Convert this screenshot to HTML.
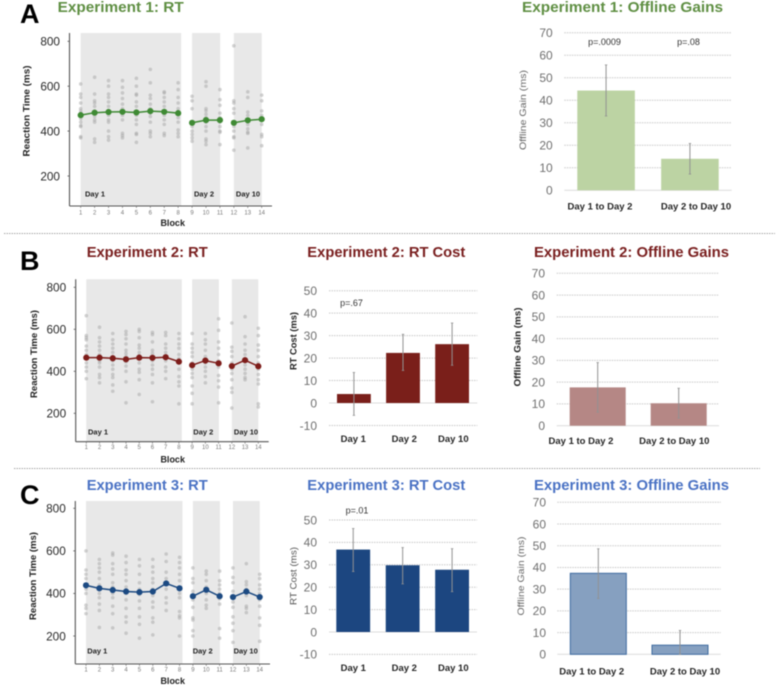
<!DOCTYPE html>
<html lang="en">
<head>
<meta charset="utf-8">
<title>Experiments 1-3: RT, RT cost and offline gains</title>
<style>
  html,body{margin:0;padding:0;background:#fff;width:784px;height:687px;overflow:hidden}
  svg{display:block;filter:blur(0.45px);font-family:"Liberation Sans",sans-serif}
  .ttl{font-size:15px;font-weight:700}
  .ltr{font-size:27px;font-weight:700;fill:#000}
  .ytb{font-size:9px;font-weight:700;fill:#222}
  .blk{font-size:9px;font-weight:700;fill:#222;text-anchor:middle}
  .day{font-size:7.5px;font-weight:700;fill:#222;text-anchor:middle}
  .sep{stroke:#a8a8a8;stroke-width:1;stroke-dasharray:1.5 1}
</style>
</head>
<body>
<svg id="fig" xmlns="http://www.w3.org/2000/svg" width="784" height="687" viewBox="0 0 784 687">
  <rect width="784" height="687" fill="#fff"/>

  <line class="sep" x1="4" y1="233.5" x2="775" y2="233.5"/>
  <line class="sep" x1="14" y1="468.5" x2="760" y2="468.5"/>

  <text class="ltr" x="20" y="23">A</text>
  <text class="ltr" x="20" y="270">B</text>
  <text class="ltr" x="20" y="504">C</text>

  <text class="ttl" fill="#5f8f43" x="57.7" y="12" textLength="126" lengthAdjust="spacingAndGlyphs">Experiment 1: RT</text>
  <text class="ttl" fill="#5f8f43" x="522" y="12" textLength="201" lengthAdjust="spacingAndGlyphs">Experiment 1: Offline Gains</text>
  <text class="ttl" fill="#7a2020" x="86.7" y="257" textLength="121" lengthAdjust="spacingAndGlyphs">Experiment 2: RT</text>
  <text class="ttl" fill="#7a2020" x="307.3" y="257" textLength="158" lengthAdjust="spacingAndGlyphs">Experiment 2: RT Cost</text>
  <text class="ttl" fill="#7a2020" x="534" y="257" textLength="195" lengthAdjust="spacingAndGlyphs">Experiment 2: Offline Gains</text>
  <text class="ttl" fill="#4a72c4" x="86.7" y="490" textLength="121" lengthAdjust="spacingAndGlyphs">Experiment 3: RT</text>
  <text class="ttl" fill="#4a72c4" x="307.3" y="490" textLength="158" lengthAdjust="spacingAndGlyphs">Experiment 3: RT Cost</text>
  <text class="ttl" fill="#4a72c4" x="534" y="490" textLength="195" lengthAdjust="spacingAndGlyphs">Experiment 3: Offline Gains</text>

  <text class="ytb" transform="translate(29.5,111) rotate(-90)" text-anchor="middle" textLength="91" lengthAdjust="spacingAndGlyphs">Reaction Time (ms)</text>
  <text class="ytb" transform="translate(37,354) rotate(-90)" text-anchor="middle" textLength="88" lengthAdjust="spacingAndGlyphs">Reaction Time (ms)</text>
  <text class="ytb" transform="translate(36,576) rotate(-90)" text-anchor="middle" textLength="88" lengthAdjust="spacingAndGlyphs">Reaction Time (ms)</text>

  <text class="blk" x="172.7" y="226">Block</text>
  <text class="blk" x="172.7" y="462.5">Block</text>
  <text class="blk" x="172.7" y="684">Block</text>

  <g id="rt1"></g>
  <g id="rt2"></g>
  <g id="rt3"></g>
  <g id="gain1"></g>
  <g id="cost2"></g>
  <g id="gain2"></g>
  <g id="cost3"></g>
  <g id="gain3"></g>
</svg>

<script>
// ---------- data ----------
const blocks = [1,2,3,4,5,6,7,8,9,10,11,12,13,14];
const rtTicks = [200,400,600,800];
const dayLabels = ['Day 1','Day 2','Day 10'];
const dayBlocks = [[1,8],[9,11],[12,14]];
const costCategories = ['Day 1','Day 2','Day 10'];
const gainCategories = ['Day 1 to Day 2','Day 2 to Day 10'];
const costTicks = [-10,0,10,20,30,40,50];
const gainTicks = [0,10,20,30,40,50,60,70];

const rt1Means = [471,482,485,486,483,489,486,480,437,449,449,437,448,453];
const rt2Means = [465,465,462,457,465,464,467,446,429,451,438,425,453,424];
const rt3Means = [438,424,416,409,406,409,447,424,387,417,387,383,409,383];

const rt1Subjects = [
  [610,565,550,525,500,490,480,470,455,440,425,420,375,370],
  [640,565,535,525,510,490,480,465,450,440,365,350],
  [625,600,565,550,530,510,490,470,450,440,400,375,360],
  [625,595,570,545,520,500,480,470,450,390,380,370],
  [635,600,565,560,530,510,490,470,450,430,390,385,350],
  [675,615,560,545,520,500,480,465,440,400,390,375],
  [575,570,550,530,510,490,470,450,430,390,380],
  [615,585,550,525,500,480,460,440,405,390,375],
  [555,535,500,440,420,400,385,370,355],
  [620,600,500,490,475,460,440,420,400,365,355,340],
  [585,540,515,480,460,440,420,400,395,340],
  [780,535,525,500,480,440,420,400,375,370,315],
  [575,550,485,470,450,430,410,395,390,325],
  [560,535,490,470,450,430,385,375,335]
];
const rt2Subjects = [
  [665,570,560,550,520,500,480,470,440,420,400,365],
  [610,560,540,520,500,480,470,450,440,420,385,370,345],
  [580,550,530,510,490,470,450,430,410,385,370,335,305],
  [590,575,555,530,500,485,470,445,425,400,350,250],
  [600,590,560,525,510,490,475,440,410,395,360,290],
  [585,575,540,500,485,470,450,430,410,385,345,255],
  [585,570,530,510,490,470,450,420,400,365],
  [580,555,530,510,480,460,440,410,375,350,330,245],
  [580,530,510,490,470,440,410,390,370,330,295,245],
  [580,550,530,500,470,440,420,400,375,345],
  [650,595,540,510,480,450,420,380,355,325,250],
  [630,515,495,470,440,410,390,360,320,300,225],
  [660,565,530,500,480,460,430,410,390,370,360],
  [605,570,525,500,470,440,410,385,360,340,245,230]
];
const rt3Subjects = [
  [600,510,490,470,440,420,400,345,330,305],
  [560,540,520,500,470,440,400,380,350,320,240],
  [590,580,540,515,490,450,430,400,380,340,305,238],
  [575,545,510,490,460,430,400,370,330,290,265,213],
  [560,530,490,450,420,395,365,330,290,255,190],
  [560,525,500,470,450,420,390,360,335,285,265,205],
  [585,550,500,470,450,420,380,355,320],
  [570,545,520,490,460,430,400,380,315,295,285,200],
  [520,470,450,410,370,335,285,275,225,200],
  [505,490,460,430,400,370,345,330],
  [505,460,440,420,400,375,350,235,190],
  [520,475,450,410,385,360,335,290,260,225,170],
  [540,455,440,420,390,340,330,310],
  [490,470,440,420,400,370,340,285,250,175]
];

const gain1Values = [44.3,14];
const gain1Upper  = [55.7,20.8];
const gain1Lower  = [33,7.2];
const gain1PValues = ['p=.0009','p=.08'];

const cost2Values = [4,22.3,26.2];
const cost2Upper  = [13.6,30.6,35.6];
const cost2Lower  = [-5.5,14.5,16.8];

const gain2Values = [17.6,10.3];
const gain2Upper  = [29,17.2];
const gain2Lower  = [6.2,3.5];

const cost3Values = [36.8,29.8,27.8];
const cost3Upper  = [46.2,37.7,37.2];
const cost3Lower  = [27,21.5,18];

const gain3Values = [37.3,4.2];
const gain3Upper  = [48.6,11];
const gain3Lower  = [25.7,0];

// ---------- helpers ----------
const NS = 'http://www.w3.org/2000/svg';
function mk(tag, attrs, parent){
  const n = document.createElementNS(NS, tag);
  for (const k in attrs) n.setAttribute(k, attrs[k]);
  parent.appendChild(n);
  return n;
}
function linear(d0, d1, r0, r1){
  return v => r0 + (v - d0) * (r1 - r0) / (d1 - d0);
}

function drawRT(id, means, subjects, color, f){
  const g = document.getElementById(id);
  const x = linear(1, 14, f.x1, f.x14);
  const y = linear(200, 800, f.y200, f.y800);
  let el;

  const bandEnds = [8.22, 11.02, 14];
  dayBlocks.forEach((d, i) => {
    el = mk('rect', {x:x(d[0]), y:f.top, width:x(bandEnds[i]) - x(d[0]), height:f.bottom - f.top, fill:'#e8e8e8'}, g);
    
    
  });

  subjects.forEach((vals, i) => {
    vals.forEach(v => {
      el = mk('circle', {cx:x(blocks[i]), cy:y(v), r:1.8, fill:'#a6a6a6', 'fill-opacity':0.5}, g);
      
      
    });
  });

  el = mk('line', {x1:f.axisX, y1:f.top, x2:f.axisX, y2:f.bottom, stroke:'#555', 'stroke-width':1.1}, g);
  
  
  el = mk('line', {x1:f.axisX, y1:f.bottom, x2:f.right, y2:f.bottom, stroke:'#555', 'stroke-width':1.1}, g);
  
  

  rtTicks.forEach(t => {
    el = mk('line', {x1:f.axisX - 2, y1:y(t), x2:f.axisX, y2:y(t), stroke:'#555', 'stroke-width':0.8}, g);
    
    
    el = mk('text', {x:f.axisX - 9.5, y:y(t) + 4.3, 'text-anchor':'end', 'font-size':11.8, fill:'#2a2a2a'}, g);
    el.textContent = t;
    
    
  });

  blocks.forEach(b => {
    el = mk('line', {x1:x(b), y1:f.bottom, x2:x(b), y2:f.bottom + 2, stroke:'#777', 'stroke-width':0.7}, g);
    
    
    el = mk('text', {x:x(b), y:f.tickLabelY, 'text-anchor':'middle', 'font-size':6, fill:'#777'}, g);
    el.textContent = b;
    
    
  });

  dayLabels.forEach((lab, i) => {
    el = mk('text', {x:f.dayX[i], y:f.dayY, class:'day'}, g);
    el.textContent = lab;
    
    
  });

  dayBlocks.forEach(d => {
    let path = '';
    for (let b = d[0]; b <= d[1]; b++) {
      path += (b === d[0] ? 'M' : 'L') + x(b) + ' ' + y(means[b - 1]);
    }
    el = mk('path', {d:path, fill:'none', stroke:color, 'stroke-width':1.5}, g);
    
    
  });
  means.forEach((v, i) => {
    el = mk('circle', {cx:x(blocks[i]), cy:y(v), r:f.dot, fill:color}, g);
    
    
  });
}

function drawBars(id, cats, ticks, values, upper, lower, s, f){
  const g = document.getElementById(id);
  const y = linear(f.refA, f.refB, f.yA, f.yB);
  let el;

  ticks.forEach(t => {
    el = mk('line', {x1:f.gx0, y1:y(t), x2:f.gx1, y2:y(t), stroke: t === 0 ? '#dcdcdc' : '#c9c9c9', 'stroke-width':1, 'stroke-dasharray': t === 0 ? 'none' : '1.5 1'}, g);
    
    
    el = mk('text', {x:f.labelRight, y:y(t) + 4.3, 'text-anchor':'end', 'font-size':12, fill:'#707070'}, g);
    el.textContent = t;
    
    
  });

  const band = (f.barsRight - f.barsLeft + f.gap) / cats.length;
  const bw = band - f.gap;
  values.forEach((v, i) => {
    const bx = f.barsLeft + i * band;
    const y0 = y(0), yv = y(v);
    el = mk('rect', {x:bx, y:Math.min(y0, yv), width:bw, height:Math.abs(y0 - yv), fill:s.fill, stroke:s.stroke || 'none', 'stroke-width':s.stroke ? 1 : 0}, g);
    
    
    const cx = bx + bw / 2;
    el = mk('line', {x1:cx, y1:y(upper[i]), x2:cx, y2:y(lower[i]), stroke:'#929292', 'stroke-width':1}, g);
    
    
    el = mk('line', {x1:cx - 1.2, y1:y(upper[i]), x2:cx + 1.2, y2:y(upper[i]), stroke:'#929292', 'stroke-width':0.8}, g);
    
    
    el = mk('line', {x1:cx - 1.2, y1:y(lower[i]), x2:cx + 1.2, y2:y(lower[i]), stroke:'#929292', 'stroke-width':0.8}, g);
    
    
    el = mk('text', {x:f.catX[i], y:f.catY, 'text-anchor':'middle', 'font-size':f.catSize, 'font-weight':700, fill:'#262626'}, g);
    el.textContent = cats[i];
    
    
  });

  el = mk('text', {transform:'translate(' + f.titleX + ',' + f.titleY + ') rotate(-90)', 'text-anchor':'middle', 'font-size':9.5, 'font-weight':f.titleWeight, fill:f.titleFill, textLength:f.titleLen, lengthAdjust:'spacingAndGlyphs'}, g);
  el.textContent = f.title;
  
  
}

function note(id, text, x, y){
  const el = mk('text', {x:x, y:y, 'text-anchor':'middle', 'font-size':9, fill:'#333'}, document.getElementById(id));
  el.textContent = text;
  
  
}

// ---------- charts ----------
drawRT('rt1', rt1Means, rt1Subjects, '#3f8a34', {x1:80.7, x14:261.7, y200:176, y800:41.3, axisX:69.5, right:272, top:33, bottom:206, tickLabelY:214.5, dayX:[95,204,248], dayY:196.5, dot:3.1});
drawRT('rt2', rt2Means, rt2Subjects, '#7d1d1a', {x1:86.3, x14:258.3, y200:413.3, y800:287.3, axisX:75.7, right:268.7, top:279.3, bottom:441.7, tickLabelY:449, dayX:[98,203.3,246], dayY:434.7, dot:3.1});
drawRT('rt3', rt3Means, rt3Subjects, '#1c4a82', {x1:86, x14:259.7, y200:636, y800:508.3, axisX:75.3, right:270, top:501, bottom:664, tickLabelY:671.3, dayX:[97.3,202.7,245.7], dayY:653.5, dot:3.1});

drawBars('gain1', gainCategories, gainTicks, gain1Values, gain1Upper, gain1Lower, {fill:'#bcd3a3'},
  {refA:0, refB:70, yA:190.3, yB:32.7, gx0:564.3, gx1:731.7, labelRight:552.7, barsLeft:577.3, barsRight:718.7, gap:26.3, catX:[600,696], catY:209.5, catSize:9.5, titleX:526, titleY:110, titleLen:80, titleWeight:400, titleFill:'#666', title:'Offline Gain (ms)'});
note('gain1', gain1PValues[0], 604.5, 45);
note('gain1', gain1PValues[1], 688.5, 45);

drawBars('cost2', costCategories, costTicks, cost2Values, cost2Upper, cost2Lower, {fill:'#7a1f1a'},
  {refA:0, refB:50, yA:403, yB:290.7, gx0:329, gx1:477.3, labelRight:317, barsLeft:337, barsRight:469, gap:15.3, catX:[353.3,404.3,453.3], catY:442, catSize:9.5, titleX:296.5, titleY:341, titleLen:58, titleWeight:700, titleFill:'#222', title:'RT Cost (ms)'});
note('cost2', 'p=.67', 351.5, 306);

drawBars('gain2', gainCategories, gainTicks, gain2Values, gain2Upper, gain2Lower, {fill:'#b58785'},
  {refA:0, refB:70, yA:425.7, yB:273.3, gx0:556.7, gx1:719, labelRight:545, barsLeft:569.7, barsRight:706.7, gap:25, catX:[581,674.3], catY:444, catSize:9.5, titleX:520.5, titleY:347, titleLen:79, titleWeight:700, titleFill:'#222', title:'Offline Gain (ms)'});

drawBars('cost3', costCategories, costTicks, cost3Values, cost3Upper, cost3Lower, {fill:'#1c4680'},
  {refA:0, refB:50, yA:632, yB:520, gx0:329, gx1:477, labelRight:317, barsLeft:336.3, barsRight:469, gap:15.6, catX:[353.3,404.3,453.3], catY:671, catSize:9.5, titleX:296.5, titleY:576, titleLen:58, titleWeight:400, titleFill:'#555', title:'RT Cost (ms)'});
note('cost3', 'p=.01', 357, 513.5);

drawBars('gain3', gainCategories, gainTicks, gain3Values, gain3Upper, gain3Lower, {fill:'#86a0c0', stroke:'#3f6ba0'},
  {refA:0, refB:70, yA:654.3, yB:502.3, gx0:557.3, gx1:720.7, labelRight:546, barsLeft:570.3, barsRight:708, gap:25.7, catX:[591.7,685], catY:674.5, catSize:9.5, titleX:524, titleY:576, titleLen:79, titleWeight:400, titleFill:'#666', title:'Offline Gain (ms)'});
</script>
</body>
</html>
